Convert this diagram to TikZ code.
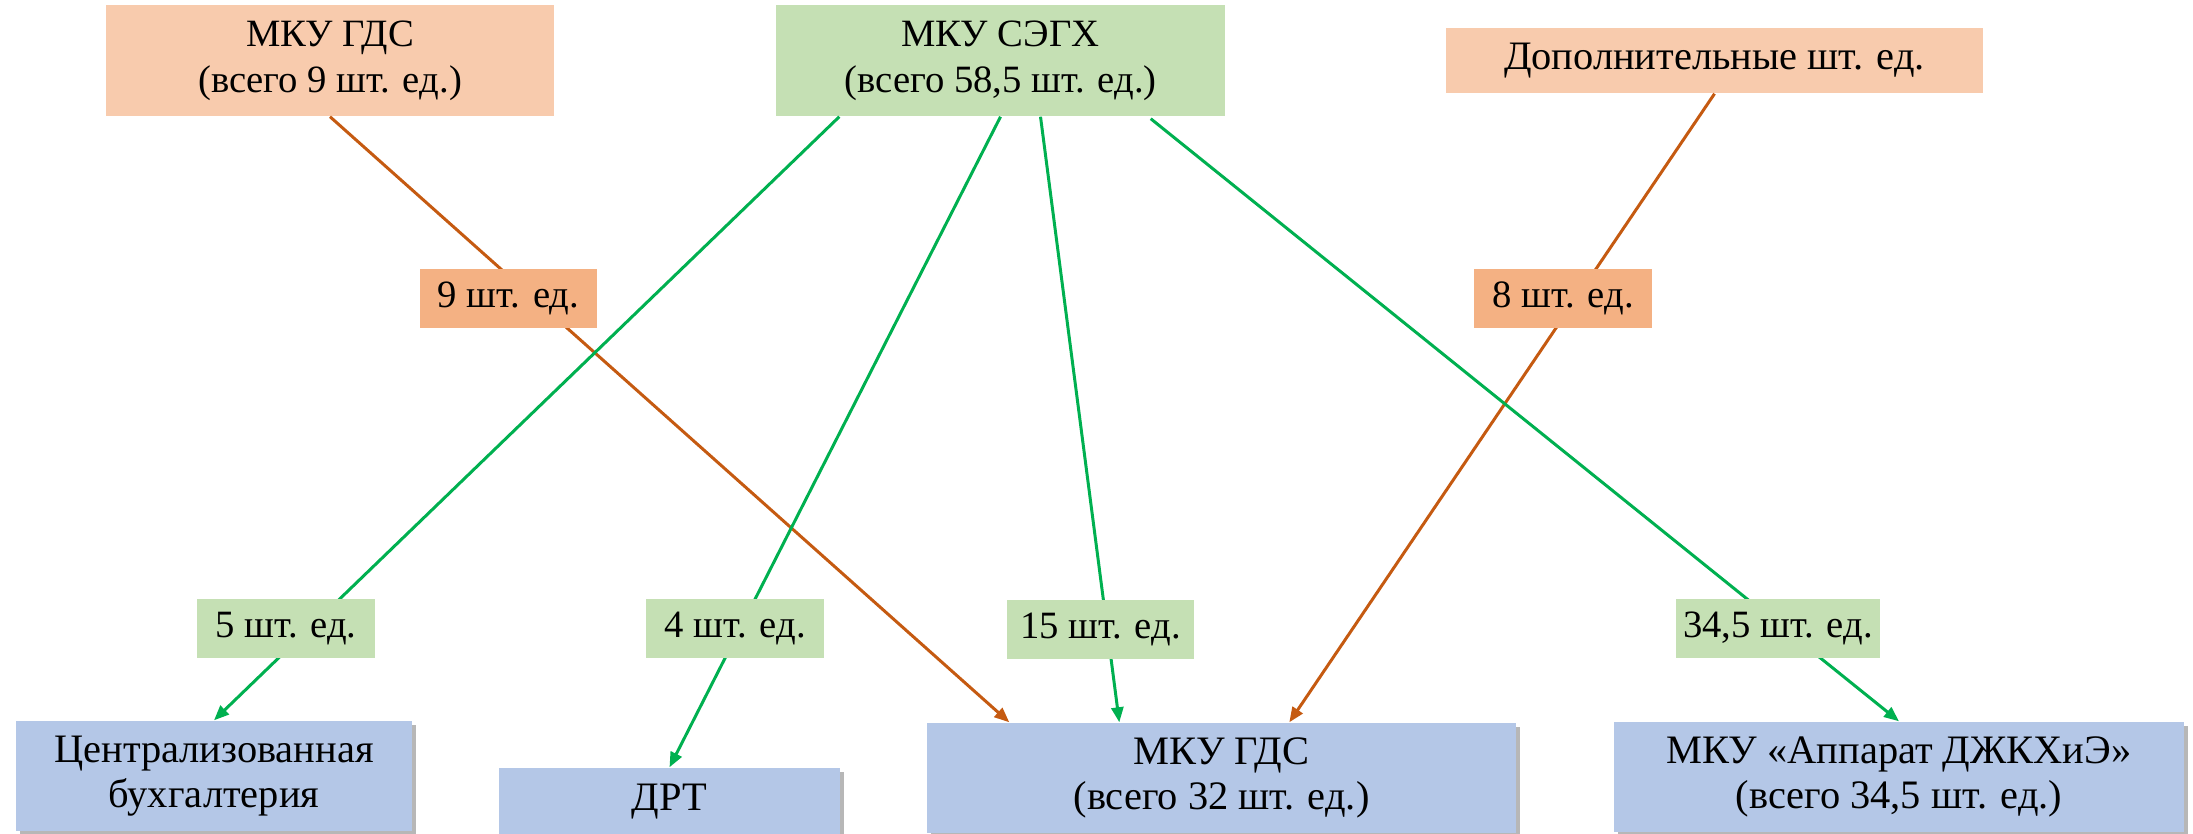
\documentclass[tikz,border=0pt]{standalone}
\usepackage{fontspec}
\setmainfont{Liberation Serif}
\usetikzlibrary{arrows.meta,positioning,calc,shadows}
\definecolor{peach}{HTML}{F8CBAD}
\definecolor{sage}{HTML}{C5E0B4}
\definecolor{apricot}{HTML}{F4B183}
\definecolor{steel}{HTML}{B4C7E7}
\definecolor{rust}{HTML}{C55A11}
\definecolor{leaf}{HTML}{00B050}

\begin{document}
\begin{tikzpicture}[x=0.1mm,y=-0.1mm,
    srcbox/.style={fill=#1,inner sep=0pt,align=center,font=\fontsize{11}{13}\selectfont},
    dstbox/.style={fill=steel,inner sep=0pt,align=center,font=\fontsize{11.5}{13}\selectfont,
      drop shadow={shadow xshift=0.4mm,shadow yshift=-0.4mm,fill=black!40,opacity=0.7}},
    qty/.style={fill=#1,inner sep=0pt,minimum height=5.9mm,font=\fontsize{11}{12}\selectfont},
    flow/.style={draw=#1,line width=0.85pt,-{Triangle[length=1.5mm,width=1.2mm,fill=#1]}}]
    \useasboundingbox (0,0) rectangle (2193,834);
    % sources
    \node[srcbox=peach,minimum width=44.8mm,minimum height=11.1mm] (gdsA) at (330,60.5) {МКУ ГДС\\(всего 9 шт. ед.)};
    \node[srcbox=sage,minimum width=44.9mm,minimum height=11.1mm] (segh) at (1000.5,60.5) {МКУ СЭГХ\\(всего 58,5 шт. ед.)};
    \node[srcbox=peach,minimum width=53.7mm,minimum height=6.5mm,font=\fontsize{11.5}{13}\selectfont] (extra) at (1714.5,60.5) {Дополнительные шт. ед.};
    % targets
    \node[dstbox,minimum width=39.6mm,minimum height=11mm] (buh) at (214,776) {Централизованная\\бухгалтерия};
    \node[dstbox,minimum width=34.1mm,minimum height=6.8mm] (drt) at (669.5,802) {ДРТ};
    \node[dstbox,minimum width=58.9mm,minimum height=11mm] (gdsB) at (1221.5,778) {МКУ ГДС\\(всего 32 шт. ед.)};
    \node[dstbox,minimum width=57mm,minimum height=11mm] (app) at (1899,777) {МКУ «Аппарат ДЖКХиЭ»\\(всего 34,5 шт. ед.)};
    % flows
    \draw[flow=rust] (gdsA.south) -- ($(gdsB.north west)+(83,0)$);
    \draw[flow=rust] (extra.south) -- ($(gdsB.north west)+(363,0)$);
    \draw[flow=leaf] ($(segh.south west)+(64,0)$) -- (buh.north);
    \draw[flow=leaf] (segh.south) -- (drt.north);
    \draw[flow=leaf] ($(segh.south)+(40,0)$) -- ($(gdsB.north west)+(193,0)$);
    \draw[flow=leaf] ($(segh.south east)+(-75,2)$) -- (app.north);
    % amounts
    \node[qty=apricot,minimum width=17.7mm] (q9) at (508.5,298.5) {9 шт. ед.};
    \node[qty=apricot,minimum width=17.8mm] (q8) at (1563,298.5) {8 шт. ед.};
    \node[qty=sage,minimum width=17.8mm] (q5) at (286,628.5) {5 шт. ед.};
    \node[qty=sage,minimum width=17.8mm] (q4) at (735,628.5) {4 шт. ед.};
    \node[qty=sage,minimum width=18.7mm] (q15) at (1100.5,629) {15 шт. ед.};
    \node[qty=sage,minimum width=20.4mm] (q34) at (1778,628.5) {34,5 шт. ед.};
\end{tikzpicture}
\end{document}
